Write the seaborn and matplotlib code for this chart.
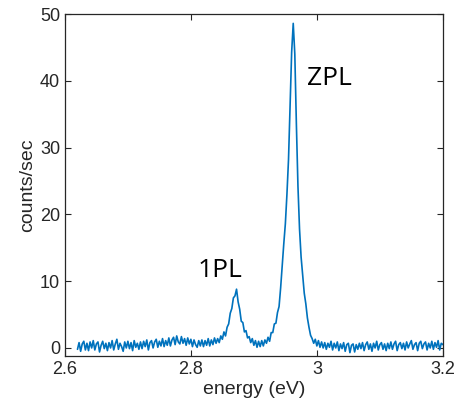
import numpy as np
import pandas as pd
import matplotlib
matplotlib.use("Agg")
import matplotlib.pyplot as plt
import seaborn as sns

# === Data (energy in eV, counts/sec) ===
energy = [
    2.6200, 2.6225, 2.6250, 2.6275, 2.6300, 2.6325, 2.6350, 2.6375, 2.6400, 2.6425,
    2.6450, 2.6475, 2.6500, 2.6525, 2.6550, 2.6575, 2.6600, 2.6625, 2.6650, 2.6675,
    2.6700, 2.6725, 2.6750, 2.6775, 2.6800, 2.6825, 2.6850, 2.6875, 2.6900, 2.6925,
    2.6950, 2.6975, 2.7000, 2.7025, 2.7050, 2.7075, 2.7100, 2.7125, 2.7150, 2.7175,
    2.7200, 2.7225, 2.7250, 2.7275, 2.7300, 2.7325, 2.7350, 2.7375, 2.7400, 2.7425,
    2.7450, 2.7475, 2.7500, 2.7525, 2.7550, 2.7575, 2.7600, 2.7625, 2.7650, 2.7675,
    2.7700, 2.7725, 2.7750, 2.7775, 2.7800, 2.7825, 2.7850, 2.7875, 2.7900, 2.7925,
    2.7950, 2.7975, 2.8000, 2.8025, 2.8050, 2.8075, 2.8100, 2.8125, 2.8150, 2.8175,
    2.8200, 2.8225, 2.8250, 2.8275, 2.8300, 2.8325, 2.8350, 2.8375, 2.8400, 2.8425,
    2.8450, 2.8475, 2.8500, 2.8525, 2.8550, 2.8575, 2.8600, 2.8625, 2.8650, 2.8675,
    2.8700, 2.8725, 2.8750, 2.8775, 2.8800, 2.8825, 2.8850, 2.8875, 2.8900, 2.8925,
    2.8950, 2.8975, 2.9000, 2.9025, 2.9050, 2.9075, 2.9100, 2.9125, 2.9150, 2.9175,
    2.9200, 2.9225, 2.9250, 2.9275, 2.9300, 2.9325, 2.9350, 2.9375, 2.9400, 2.9425,
    2.9450, 2.9475, 2.9500, 2.9525, 2.9550, 2.9575, 2.9600, 2.9625, 2.9650, 2.9675,
    2.9700, 2.9725, 2.9750, 2.9775, 2.9800, 2.9825, 2.9850, 2.9875, 2.9900, 2.9925,
    2.9950, 2.9975, 3.0000, 3.0025, 3.0050, 3.0075, 3.0100, 3.0125, 3.0150, 3.0175,
    3.0200, 3.0225, 3.0250, 3.0275, 3.0300, 3.0325, 3.0350, 3.0375, 3.0400, 3.0425,
    3.0450, 3.0475, 3.0500, 3.0525, 3.0550, 3.0575, 3.0600, 3.0625, 3.0650, 3.0675,
    3.0700, 3.0725, 3.0750, 3.0775, 3.0800, 3.0825, 3.0850, 3.0875, 3.0900, 3.0925,
    3.0950, 3.0975, 3.1000, 3.1025, 3.1050, 3.1075, 3.1100, 3.1125, 3.1150, 3.1175,
    3.1200, 3.1225, 3.1250, 3.1275, 3.1300, 3.1325, 3.1350, 3.1375, 3.1400, 3.1425,
    3.1450, 3.1475, 3.1500, 3.1525, 3.1550, 3.1575, 3.1600, 3.1625, 3.1650, 3.1675,
    3.1700, 3.1725, 3.1750, 3.1775, 3.1800, 3.1825, 3.1850, 3.1875, 3.1900, 3.1925,
    3.1950, 3.1975, 3.2000,
]

counts = [
    -0.2, 0.8, -0.5, 0.6, 1.0, -0.3, 0.7, -0.4, 0.9, 0.0, 1.1, -0.3, 0.6, 0.9, -0.6, 0.4, 1.0, -0.1, 0.7, -0.4,
    0.8, 0.0, 1.1, -0.3, 0.6, 1.3, -0.2, 0.7, 0.2, -0.5, 0.9, 0.0, 1.0, -0.1, 0.8, -0.4, 1.1, 0.1, 0.7, -0.2,
    0.9, -0.1, 1.0, 0.2, 1.2, -0.3, 0.8, 1.1, 0.0, 0.9, 1.3, 0.1, 1.0, 0.3, 1.4, 0.2, 1.1, 0.4, 1.5, 0.3,
    1.2, 1.6, 0.5, 1.8, 0.9, 0.6, 1.7, 0.7, 1.4, 0.4, 1.5, 0.6, 1.3, 0.2, 1.2, 0.5, 0.1, 1.1, 0.3, 1.2,
    0.2, 1.1, 0.4, 1.4, 0.3, 1.2, 0.5, 1.5, 0.7, 1.4, 0.8, 1.8, 1.3, 2.4, 1.8, 3.1, 3.6, 5.2, 5.9, 7.5,
    7.8, 8.8, 6.9, 5.8, 4.0, 3.8, 2.4, 2.6, 1.5, 1.7, 0.8, 1.4, 0.4, 1.1, 0.1, 1.0, 0.2, 1.1, 0.3, 1.2,
    0.7, 1.6, 1.0, 2.3, 2.3, 3.6, 3.7, 5.3, 6.2, 9.0, 12.4, 15.6, 18.6, 23.0, 28.2, 36.0, 44.3, 48.6, 44.0, 33.5,
    24.2, 17.8, 13.6, 10.9, 8.2, 6.6, 4.5, 3.1, 1.9, 1.4, 0.7, 1.3, 0.3, 1.1, 0.1, 0.9, 0.0, 0.8, -0.2, 0.7,
    0.1, 1.0, -0.3, 0.7, 0.0, 0.9, -0.4, 0.6, -0.1, 0.8, -0.5, 0.5, 0.7, -0.7, 0.4, 0.6, -0.6, 0.5, -0.2, 0.7,
    -0.1, 0.8, -0.4, 0.5, 0.9, -0.2, 0.6, -0.5, 0.7, 0.0, 1.0, -0.3, 0.5, 0.8, -0.2, 0.6, -0.4, 0.7, -0.1, 0.9,
    -0.2, 0.6, 1.0, -0.4, 0.5, 0.8, -0.1, 0.7, -0.3, 0.9, 0.0, 0.6, 1.1, -0.2, 0.5, 0.8, -0.4, 0.7, 1.0, -0.1,
    0.6, 0.9, -0.3, 0.7, 0.0, 1.0, -0.2, 0.8, 0.1, 1.1, -0.3, 0.7, 0.5,
]

x_ticks = [2.6, 2.8, 3.0, 3.2]
x_tick_labels = ["2.6", "2.8", "3", "3.2"]
y_ticks = [0, 10, 20, 30, 40, 50]

peak_labels = ["1PL", "ZPL"]
peak_label_pos = [(2.810, 10.6), (2.984, 39.4)]

df = pd.DataFrame({"energy": energy, "counts": counts})

# === Style ===
sns.set_style("ticks")
plt.rcParams["font.family"] = ["Liberation Sans", "DejaVu Sans"]
plt.rcParams["xtick.direction"] = "in"
plt.rcParams["ytick.direction"] = "in"

fig = plt.figure(figsize=(4.57, 4.12), dpi=100)
ax = fig.add_axes([0.142, 0.136, 0.827, 0.830])

sns.lineplot(data=df, x="energy", y="counts", color="#0072BD",
             linewidth=1.2, estimator=None, ax=ax)

ax.set_xlim(2.6, 3.2)
ax.set_ylim(-1.2, 50)
ax.set_xticks(x_ticks)
ax.set_xticklabels(x_tick_labels)
ax.set_yticks(y_ticks)
ax.tick_params(axis="both", which="both", top=True, right=True,
               labelsize=13, colors="#262626", length=4, width=0.8)

for side in ["top", "right", "bottom", "left"]:
    ax.spines[side].set_visible(True)
    ax.spines[side].set_color("#262626")
    ax.spines[side].set_linewidth(0.9)

ax.set_xlabel("energy (eV)", fontsize=14, color="#262626", labelpad=2)
ax.set_ylabel("counts/sec", fontsize=14, color="#262626", labelpad=3)

for label, (lx, ly) in zip(peak_labels, peak_label_pos):
    ax.text(lx, ly, label, fontsize=19, family=["Open Sans", "DejaVu Sans"],
            ha="left", va="baseline", color="black")

fig.savefig("out.png", dpi=100)
plt.close(fig)
